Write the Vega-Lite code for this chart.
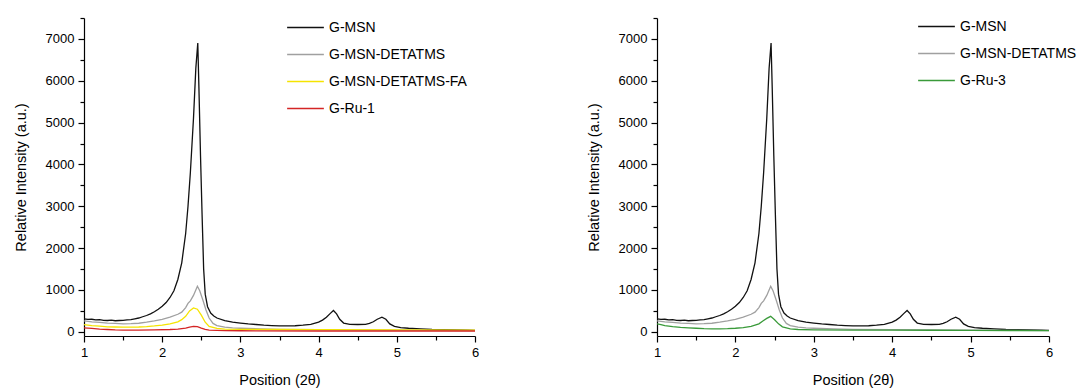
{
  "$schema": "https://vega.github.io/schema/vega-lite/v6.json",
  "padding": {"left": 13, "top": 7, "right": 5, "bottom": 5},
  "background": "white",
  "config": {
    "font": "Liberation Sans",
    "view": {"stroke": null},
    "axis": {
      "grid": false,
      "domainColor": "#000",
      "tickColor": "#000",
      "labelColor": "#000",
      "titleColor": "#000",
      "labelFont": "Liberation Sans",
      "titleFont": "Liberation Sans",
      "labelFontSize": 13,
      "titleFontSize": 14.5,
      "titleFontWeight": "normal",
      "labelPadding": 4,
      "domainWidth": 1.2,
      "tickWidth": 1.2
    },
    "legend": {
      "labelFont": "Liberation Sans",
      "labelFontSize": 14,
      "labelColor": "#000",
      "symbolType": "stroke",
      "symbolStrokeWidth": 1.5,
      "symbolSize": 1350,
      "labelLimit": 300,
      "rowPadding": -6
    }
  },
  "datasets": {
    "xrd": [
      {"x":1.00,"y":310,"s":"G-MSN"},{"x":1.05,"y":295,"s":"G-MSN"},{"x":1.10,"y":300,"s":"G-MSN"},{"x":1.15,"y":285,"s":"G-MSN"},{"x":1.20,"y":290,"s":"G-MSN"},{"x":1.25,"y":275,"s":"G-MSN"},{"x":1.30,"y":270,"s":"G-MSN"},{"x":1.35,"y":280,"s":"G-MSN"},{"x":1.40,"y":265,"s":"G-MSN"},{"x":1.45,"y":270,"s":"G-MSN"},{"x":1.50,"y":275,"s":"G-MSN"},{"x":1.55,"y":285,"s":"G-MSN"},{"x":1.60,"y":290,"s":"G-MSN"},{"x":1.65,"y":310,"s":"G-MSN"},{"x":1.70,"y":330,"s":"G-MSN"},{"x":1.75,"y":360,"s":"G-MSN"},{"x":1.80,"y":390,"s":"G-MSN"},{"x":1.85,"y":430,"s":"G-MSN"},{"x":1.90,"y":480,"s":"G-MSN"},{"x":1.95,"y":540,"s":"G-MSN"},{"x":2.00,"y":610,"s":"G-MSN"},{"x":2.05,"y":700,"s":"G-MSN"},{"x":2.10,"y":820,"s":"G-MSN"},{"x":2.15,"y":980,"s":"G-MSN"},{"x":2.20,"y":1250,"s":"G-MSN"},{"x":2.25,"y":1650,"s":"G-MSN"},{"x":2.30,"y":2350,"s":"G-MSN"},{"x":2.33,"y":3000,"s":"G-MSN"},{"x":2.36,"y":3800,"s":"G-MSN"},{"x":2.40,"y":5100,"s":"G-MSN"},{"x":2.43,"y":6300,"s":"G-MSN"},{"x":2.455,"y":6900,"s":"G-MSN"},{"x":2.47,"y":5800,"s":"G-MSN"},{"x":2.49,"y":4200,"s":"G-MSN"},{"x":2.51,"y":2800,"s":"G-MSN"},{"x":2.53,"y":1500,"s":"G-MSN"},{"x":2.55,"y":900,"s":"G-MSN"},{"x":2.58,"y":600,"s":"G-MSN"},{"x":2.62,"y":450,"s":"G-MSN"},{"x":2.66,"y":380,"s":"G-MSN"},{"x":2.70,"y":330,"s":"G-MSN"},{"x":2.80,"y":270,"s":"G-MSN"},{"x":2.90,"y":230,"s":"G-MSN"},{"x":3.00,"y":210,"s":"G-MSN"},{"x":3.10,"y":190,"s":"G-MSN"},{"x":3.20,"y":175,"s":"G-MSN"},{"x":3.30,"y":160,"s":"G-MSN"},{"x":3.40,"y":150,"s":"G-MSN"},{"x":3.50,"y":140,"s":"G-MSN"},{"x":3.60,"y":140,"s":"G-MSN"},{"x":3.70,"y":145,"s":"G-MSN"},{"x":3.80,"y":160,"s":"G-MSN"},{"x":3.90,"y":180,"s":"G-MSN"},{"x":4.00,"y":230,"s":"G-MSN"},{"x":4.05,"y":280,"s":"G-MSN"},{"x":4.10,"y":350,"s":"G-MSN"},{"x":4.15,"y":440,"s":"G-MSN"},{"x":4.19,"y":510,"s":"G-MSN"},{"x":4.23,"y":430,"s":"G-MSN"},{"x":4.27,"y":300,"s":"G-MSN"},{"x":4.32,"y":210,"s":"G-MSN"},{"x":4.40,"y":180,"s":"G-MSN"},{"x":4.50,"y":175,"s":"G-MSN"},{"x":4.60,"y":180,"s":"G-MSN"},{"x":4.65,"y":200,"s":"G-MSN"},{"x":4.70,"y":240,"s":"G-MSN"},{"x":4.75,"y":300,"s":"G-MSN"},{"x":4.81,"y":350,"s":"G-MSN"},{"x":4.86,"y":300,"s":"G-MSN"},{"x":4.91,"y":190,"s":"G-MSN"},{"x":4.97,"y":130,"s":"G-MSN"},{"x":5.05,"y":100,"s":"G-MSN"},{"x":5.15,"y":85,"s":"G-MSN"},{"x":5.30,"y":70,"s":"G-MSN"},{"x":5.45,"y":55,"s":"G-MSN"},{"x":5.60,"y":50,"s":"G-MSN"},{"x":5.75,"y":45,"s":"G-MSN"},{"x":5.90,"y":40,"s":"G-MSN"},{"x":6.00,"y":35,"s":"G-MSN"},

      {"x":1.00,"y":260,"s":"G-MSN-DETATMS"},{"x":1.10,"y":240,"s":"G-MSN-DETATMS"},{"x":1.20,"y":225,"s":"G-MSN-DETATMS"},{"x":1.30,"y":210,"s":"G-MSN-DETATMS"},{"x":1.40,"y":200,"s":"G-MSN-DETATMS"},{"x":1.50,"y":190,"s":"G-MSN-DETATMS"},{"x":1.60,"y":195,"s":"G-MSN-DETATMS"},{"x":1.70,"y":205,"s":"G-MSN-DETATMS"},{"x":1.80,"y":230,"s":"G-MSN-DETATMS"},{"x":1.90,"y":260,"s":"G-MSN-DETATMS"},{"x":2.00,"y":300,"s":"G-MSN-DETATMS"},{"x":2.10,"y":350,"s":"G-MSN-DETATMS"},{"x":2.20,"y":420,"s":"G-MSN-DETATMS"},{"x":2.25,"y":470,"s":"G-MSN-DETATMS"},{"x":2.30,"y":580,"s":"G-MSN-DETATMS"},{"x":2.33,"y":680,"s":"G-MSN-DETATMS"},{"x":2.36,"y":740,"s":"G-MSN-DETATMS"},{"x":2.40,"y":870,"s":"G-MSN-DETATMS"},{"x":2.45,"y":1090,"s":"G-MSN-DETATMS"},{"x":2.48,"y":980,"s":"G-MSN-DETATMS"},{"x":2.52,"y":760,"s":"G-MSN-DETATMS"},{"x":2.56,"y":520,"s":"G-MSN-DETATMS"},{"x":2.60,"y":330,"s":"G-MSN-DETATMS"},{"x":2.65,"y":200,"s":"G-MSN-DETATMS"},{"x":2.70,"y":150,"s":"G-MSN-DETATMS"},{"x":2.80,"y":110,"s":"G-MSN-DETATMS"},{"x":2.90,"y":95,"s":"G-MSN-DETATMS"},{"x":3.00,"y":85,"s":"G-MSN-DETATMS"},{"x":3.25,"y":70,"s":"G-MSN-DETATMS"},{"x":3.50,"y":60,"s":"G-MSN-DETATMS"},{"x":4.00,"y":50,"s":"G-MSN-DETATMS"},{"x":4.50,"y":45,"s":"G-MSN-DETATMS"},{"x":5.00,"y":40,"s":"G-MSN-DETATMS"},{"x":5.50,"y":35,"s":"G-MSN-DETATMS"},{"x":6.00,"y":30,"s":"G-MSN-DETATMS"},

      {"x":1.00,"y":170,"s":"G-MSN-DETATMS-FA"},{"x":1.10,"y":150,"s":"G-MSN-DETATMS-FA"},{"x":1.20,"y":135,"s":"G-MSN-DETATMS-FA"},{"x":1.30,"y":120,"s":"G-MSN-DETATMS-FA"},{"x":1.40,"y":115,"s":"G-MSN-DETATMS-FA"},{"x":1.50,"y":110,"s":"G-MSN-DETATMS-FA"},{"x":1.60,"y":110,"s":"G-MSN-DETATMS-FA"},{"x":1.70,"y":115,"s":"G-MSN-DETATMS-FA"},{"x":1.80,"y":125,"s":"G-MSN-DETATMS-FA"},{"x":1.90,"y":140,"s":"G-MSN-DETATMS-FA"},{"x":2.00,"y":160,"s":"G-MSN-DETATMS-FA"},{"x":2.10,"y":190,"s":"G-MSN-DETATMS-FA"},{"x":2.20,"y":240,"s":"G-MSN-DETATMS-FA"},{"x":2.25,"y":290,"s":"G-MSN-DETATMS-FA"},{"x":2.30,"y":370,"s":"G-MSN-DETATMS-FA"},{"x":2.35,"y":500,"s":"G-MSN-DETATMS-FA"},{"x":2.40,"y":570,"s":"G-MSN-DETATMS-FA"},{"x":2.45,"y":540,"s":"G-MSN-DETATMS-FA"},{"x":2.50,"y":400,"s":"G-MSN-DETATMS-FA"},{"x":2.55,"y":230,"s":"G-MSN-DETATMS-FA"},{"x":2.60,"y":130,"s":"G-MSN-DETATMS-FA"},{"x":2.70,"y":80,"s":"G-MSN-DETATMS-FA"},{"x":2.80,"y":65,"s":"G-MSN-DETATMS-FA"},{"x":3.00,"y":60,"s":"G-MSN-DETATMS-FA"},{"x":3.50,"y":55,"s":"G-MSN-DETATMS-FA"},{"x":4.00,"y":50,"s":"G-MSN-DETATMS-FA"},{"x":5.00,"y":45,"s":"G-MSN-DETATMS-FA"},{"x":6.00,"y":40,"s":"G-MSN-DETATMS-FA"},

      {"x":1.00,"y":95,"s":"G-Ru-1"},{"x":1.10,"y":80,"s":"G-Ru-1"},{"x":1.20,"y":65,"s":"G-Ru-1"},{"x":1.30,"y":55,"s":"G-Ru-1"},{"x":1.40,"y":45,"s":"G-Ru-1"},{"x":1.50,"y":40,"s":"G-Ru-1"},{"x":1.70,"y":40,"s":"G-Ru-1"},{"x":1.90,"y":45,"s":"G-Ru-1"},{"x":2.10,"y":55,"s":"G-Ru-1"},{"x":2.20,"y":65,"s":"G-Ru-1"},{"x":2.30,"y":90,"s":"G-Ru-1"},{"x":2.35,"y":110,"s":"G-Ru-1"},{"x":2.40,"y":130,"s":"G-Ru-1"},{"x":2.45,"y":125,"s":"G-Ru-1"},{"x":2.50,"y":90,"s":"G-Ru-1"},{"x":2.55,"y":60,"s":"G-Ru-1"},{"x":2.60,"y":40,"s":"G-Ru-1"},{"x":2.80,"y":30,"s":"G-Ru-1"},{"x":3.00,"y":25,"s":"G-Ru-1"},{"x":4.00,"y":20,"s":"G-Ru-1"},{"x":5.00,"y":20,"s":"G-Ru-1"},{"x":6.00,"y":20,"s":"G-Ru-1"},

      {"x":1.00,"y":190,"s":"G-Ru-3"},{"x":1.05,"y":170,"s":"G-Ru-3"},{"x":1.10,"y":150,"s":"G-Ru-3"},{"x":1.20,"y":125,"s":"G-Ru-3"},{"x":1.30,"y":105,"s":"G-Ru-3"},{"x":1.40,"y":95,"s":"G-Ru-3"},{"x":1.50,"y":85,"s":"G-Ru-3"},{"x":1.60,"y":75,"s":"G-Ru-3"},{"x":1.70,"y":70,"s":"G-Ru-3"},{"x":1.80,"y":70,"s":"G-Ru-3"},{"x":1.90,"y":75,"s":"G-Ru-3"},{"x":2.00,"y":85,"s":"G-Ru-3"},{"x":2.10,"y":100,"s":"G-Ru-3"},{"x":2.20,"y":130,"s":"G-Ru-3"},{"x":2.30,"y":190,"s":"G-Ru-3"},{"x":2.35,"y":260,"s":"G-Ru-3"},{"x":2.40,"y":320,"s":"G-Ru-3"},{"x":2.45,"y":370,"s":"G-Ru-3"},{"x":2.50,"y":290,"s":"G-Ru-3"},{"x":2.55,"y":190,"s":"G-Ru-3"},{"x":2.60,"y":120,"s":"G-Ru-3"},{"x":2.70,"y":70,"s":"G-Ru-3"},{"x":2.80,"y":55,"s":"G-Ru-3"},{"x":3.00,"y":45,"s":"G-Ru-3"},{"x":3.50,"y":40,"s":"G-Ru-3"},{"x":4.00,"y":40,"s":"G-Ru-3"},{"x":4.50,"y":38,"s":"G-Ru-3"},{"x":5.00,"y":35,"s":"G-Ru-3"},{"x":5.50,"y":32,"s":"G-Ru-3"},{"x":6.00,"y":30,"s":"G-Ru-3"}
    ]
  },
  "spacing": 107,
  "resolve": {"scale": {"color": "independent", "strokeWidth": "independent"}},
  "hconcat": [
    {
      "width": 391,
      "height": 318,
      "data": {"name": "xrd"},
      "transform": [{"filter": {"field": "s", "oneOf": ["G-MSN", "G-MSN-DETATMS", "G-MSN-DETATMS-FA", "G-Ru-1"]}}],
      "mark": {"type": "line", "clip": true},
      "encoding": {
        "x": {"field": "x", "type": "quantitative", "scale": {"domain": [1, 6], "nice": false, "zero": false},
          "axis": {"title": "Position (2θ)", "values": [1,1.5,2,2.5,3,3.5,4,4.5,5,5.5,6], "labelExpr": "datum.value % 1 === 0 ? format(datum.value, 'd') : ''", "tickSize": {"condition": {"test": "datum.value % 1 === 0", "value": 6}, "value": 4}, "labelFlush": false, "titlePadding": 14}},
        "y": {"field": "y", "type": "quantitative", "scale": {"domain": [-100, 7500], "nice": false, "zero": false},
          "axis": {"title": "Relative Intensity (a.u.)", "values": [0,500,1000,1500,2000,2500,3000,3500,4000,4500,5000,5500,6000,6500,7000,7500], "labelExpr": "datum.value % 1000 === 0 && datum.value < 7500 ? format(datum.value, 'd') : ''", "tickSize": {"condition": {"test": "datum.value % 1000 === 0", "value": 6}, "value": 4}, "titlePadding": 17}},
        "color": {"field": "s", "type": "nominal", "sort": ["G-MSN", "G-MSN-DETATMS", "G-MSN-DETATMS-FA", "G-Ru-1"],
          "scale": {"domain": ["G-MSN", "G-MSN-DETATMS", "G-MSN-DETATMS-FA", "G-Ru-1"], "range": ["#111111", "#a0a0a0", "#f5e400", "#d42525"]},
          "legend": {"title": null, "orient": "none", "legendX": 202, "legendY": -10}},
        "strokeWidth": {"field": "s", "type": "nominal",
          "scale": {"domain": ["G-MSN", "G-MSN-DETATMS", "G-MSN-DETATMS-FA", "G-Ru-1"], "range": [1.3, 1.3, 2, 1.6]},
          "legend": null}
      }
    },
    {
      "width": 392,
      "height": 318,
      "data": {"name": "xrd"},
      "transform": [{"filter": {"field": "s", "oneOf": ["G-MSN", "G-MSN-DETATMS", "G-Ru-3"]}}],
      "mark": {"type": "line", "clip": true},
      "encoding": {
        "x": {"field": "x", "type": "quantitative", "scale": {"domain": [1, 6], "nice": false, "zero": false},
          "axis": {"title": "Position (2θ)", "values": [1,1.5,2,2.5,3,3.5,4,4.5,5,5.5,6], "labelExpr": "datum.value % 1 === 0 ? format(datum.value, 'd') : ''", "tickSize": {"condition": {"test": "datum.value % 1 === 0", "value": 6}, "value": 4}, "labelFlush": false, "titlePadding": 14}},
        "y": {"field": "y", "type": "quantitative", "scale": {"domain": [-100, 7500], "nice": false, "zero": false},
          "axis": {"title": "Relative Intensity (a.u.)", "values": [0,500,1000,1500,2000,2500,3000,3500,4000,4500,5000,5500,6000,6500,7000,7500], "labelExpr": "datum.value % 1000 === 0 && datum.value < 7500 ? format(datum.value, 'd') : ''", "tickSize": {"condition": {"test": "datum.value % 1000 === 0", "value": 6}, "value": 4}, "titlePadding": 17}},
        "color": {"field": "s", "type": "nominal",
          "scale": {"domain": ["G-MSN", "G-MSN-DETATMS", "G-Ru-3"], "range": ["#111111", "#a0a0a0", "#3a9a3a"]},
          "legend": {"title": null, "orient": "none", "legendX": 260, "legendY": -11}},
        "strokeWidth": {"field": "s", "type": "nominal",
          "scale": {"domain": ["G-MSN", "G-MSN-DETATMS", "G-Ru-3"], "range": [1.3, 1.3, 1.6]},
          "legend": null}
      }
    }
  ]
}
